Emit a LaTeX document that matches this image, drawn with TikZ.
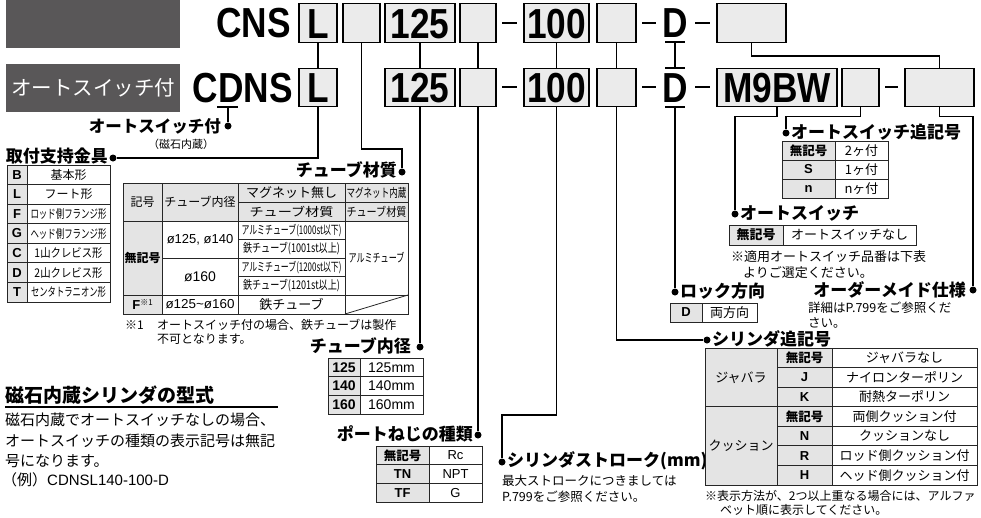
\documentclass[tikz,border=0pt]{standalone}
\usepackage{fontspec}
\usepackage{graphicx}
\setmainfont{Noto Sans CJK JP}
\newfontfamily\lat{Liberation Sans}
\definecolor{dk}{HTML}{595758}
\definecolor{bx}{HTML}{EBEBEB}
\definecolor{tg}{HTML}{E4E4E4}
\newcommand\fs[1]{\fontsize{#1}{#1}\selectfont}
\newcommand\sqz[2]{\resizebox{#1pt}{\height}{#2}}
\newcommand\codetxt[1]{\scalebox{0.84}[1]{\lat\bfseries\fs{42}#1}}
\tikzset{
  codebox/.style={draw=black, line width=1.4, fill=bx, minimum height=38.5, inner sep=0, text height=30, text depth=0},
  conn/.style={line width=1.3},
  dotn/.style={circle, fill=black, minimum size=7, inner sep=0},
  ttl/.style={font=\bfseries\fs{17}, inner sep=0},
  cell/.style={inner sep=0, font=\fs{12}},
  lcell/.style={inner sep=0, font=\lat\fs{13}},
  bcell/.style={inner sep=0, font=\lat\bfseries\fs{13}},
  grid/.style={line width=0.8, draw=black!85},
  note/.style={inner sep=0, font=\fs{12.5}, anchor=west},
  dashbar/.style={line width=2.4},
}
\begin{document}
\begin{tikzpicture}[x=1pt,y=-1pt]
\useasboundingbox (0,0) rectangle (981,517);
% header dark boxes
\fill[dk] (6,0) rectangle (180,48);
\fill[dk] (6,64) rectangle (180,112);
\node[inner sep=0, text=white, font=\fs{20.5}] (hdr) at (93,88) {オートスイッチ付};
% code texts
\node[anchor=base east, inner sep=0] (cns) at (291,37) {\codetxt{CNS}};
\node[anchor=base east, inner sep=0] (cdns) at (293,102) {\codetxt{CDNS}};
% row 1 boxes
\node[codebox, minimum width=38] (r1L) at (318,23) {\codetxt{L}};
\node[codebox, minimum width=37] (r1e1) at (361.5,23) {};
\node[codebox, minimum width=70] (r1n) at (420,23) {\codetxt{125}};
\node[codebox, minimum width=36] (r1e2) at (478,23) {};
\node[codebox, minimum width=65] (r1h) at (556.5,23) {\codetxt{100}};
\node[codebox, minimum width=39] (r1e3) at (616.5,23) {};
\node[anchor=base, inner sep=0] (r1D) at (675,37) {\codetxt{D}};
\node[codebox, minimum width=69] (r1x) at (751.5,23) {};
% row 2 boxes
\node[codebox, minimum width=38] (r2L) at (318,87.5) {\codetxt{L}};
\node[codebox, minimum width=70] (r2n) at (420,87.5) {\codetxt{125}};
\node[codebox, minimum width=36] (r2e2) at (478,87.5) {};
\node[codebox, minimum width=65] (r2h) at (556.5,87.5) {\codetxt{100}};
\node[codebox, minimum width=39] (r2e3) at (616.5,87.5) {};
\node[anchor=base, inner sep=0] (r2D) at (675,102) {\codetxt{D}};
\node[codebox, minimum width=120] (r2m) at (777,87.5) {\codetxt{M9BW}};
\node[codebox, minimum width=37] (r2e4) at (860.5,87.5) {};
\node[codebox, minimum width=69] (r2x) at (939.5,87.5) {};
% dashes
\foreach \xa/\xb in {502/517,642/656,695/710}{
  \draw[dashbar] (\xa,23) -- (\xb,23);
  \draw[dashbar] (\xa,87) -- (\xb,87);
}
\draw[dashbar] (885,87) -- (898,87);
% D bars
\coordinate (dA) at (675,42);
\coordinate (dB) at (675,68);
\coordinate (dC) at (675,107);
\draw[conn] (665,42) -- (685,42);
\draw[conn] (665,68) -- (685,68);
\draw[conn] (665,107) -- (685,107);
\draw[conn] (dA) -- (dB);
% CDNS D underline
\coordinate (cd) at (228,107);
\draw[conn] (217,107) -- (238,107);
% vertical links between rows
\draw[conn] (r1L.south) -- (r2L.north);
\draw[conn] (r1n.south) -- (r2n.north);
\draw[conn] (r1e2.south) -- (r2e2.north);
\draw[conn] (r1h.south) -- (r2h.north);
\draw[conn] (r1e3.south) -- (r2e3.north);
\draw[conn] (r1x.south) -- ++(0,13) -| (r2x.north);
% dots
\node[dotn] (d0) at (228,126) {};
\node[dotn] (d1) at (113,158) {};
\node[dotn] (d2) at (402,172) {};
\node[dotn] (d3) at (420,347) {};
\node[dotn] (d4) at (478,435) {};
\node[dotn] (d5) at (502,462) {};
\node[dotn] (d6) at (707,340) {};
\node[dotn] (d7) at (675,292) {};
\node[dotn] (d8) at (735,214) {};
\node[dotn] (d9) at (786,133) {};
\node[dotn] (d10) at (973,290) {};
% connectors
\coordinate (b2) at (402,149);
\coordinate (b5) at (502,415);
\draw[conn] (cd) -- (d0);
\draw[conn] (r2L.south) |- (d1);
\draw[conn] (r1e1.south) |- (b2) -- (d2);
\draw[conn] (r2n.south) -- (d3);
\draw[conn] (r2e2.south) -- (d4);
\draw[conn] (r2h.south) |- (b5) -- (d5);
\draw[conn] (r2e3.south) |- (d6);
\draw[conn] (dC) -- (d7);
\draw[conn] (r2m.south) -- ++(0,9) -| (d8);
\draw[conn] (r2e4.south) -- ++(0,9) -| (d9);
\draw[conn] (r2x.south) -- ++(0,9) -| (d10);
% titles
\node[ttl, font=\bfseries\fs{16.5}, anchor=east] (t0) at (221,126) {オートスイッチ付};
\node[inner sep=0, font=\fs{11}] (t0b) at (181,144) {（磁石内蔵）};
\node[ttl, anchor=east] (t1) at (108,156) {取付支持金具};
\node[ttl, anchor=east] (t2) at (397,170) {チューブ材質};
\node[ttl, anchor=east] (t3) at (411,346) {チューブ内径};
\node[ttl, anchor=east] (t4) at (473,434) {ポートねじの種類};
\node[ttl, anchor=west] (t5) at (507,461) {シリンダストローク(mm)};
\node[ttl, anchor=west] (t6) at (791,132) {オートスイッチ追記号};
\node[ttl, anchor=west] (t7) at (740,213) {オートスイッチ};
\node[ttl, anchor=west] (t8) at (680,291) {ロック方向};
\node[ttl, anchor=east] (t9) at (966,290) {オーダーメイド仕様};
\node[ttl, anchor=west] (t10) at (712,339) {シリンダ追記号};
% ---- table: mounting
\fill[tg] (7,165) rectangle (27,302);
\draw[grid] (7,165) rectangle (110,302);
\draw[grid] (27,165) -- (27,302);
\foreach \k in {1,...,6} \draw[grid] (7,{165+19.57*\k}) -- (110,{165+19.57*\k});
\foreach \k/\t in {0/B,1/L,2/F,3/G,4/C,5/D,6/T}
  \node[bcell] (ta\k) at (17,{174.8+19.57*\k}) {\t};
\node[cell] (tb0) at (68.5,174.8) {基本形};
\node[cell] (tb1) at (68.5,194.4) {フート形};
\node[cell] (tb2) at (68.5,213.9) {\sqz{76}{ロッド側フランジ形}};
\node[cell] (tb3) at (68.5,233.5) {\sqz{76}{ヘッド側フランジ形}};
\node[cell] (tb4) at (68.5,253.1) {\sqz{68}{1山クレビス形}};
\node[cell] (tb5) at (68.5,272.7) {\sqz{68}{2山クレビス形}};
\node[cell] (tb6) at (68.5,292.2) {\sqz{75}{センタトラニオン形}};
% ---- table: tube material
\fill[tg] (123,183) rectangle (408,221);
\fill[tg] (123,221) rectangle (162,314);
\draw[grid] (123,183) rectangle (408,314);
\draw[grid] (162,183) -- (162,314);
\draw[grid] (238,183) -- (238,314);
\draw[grid] (345,183) -- (345,314);
\draw[grid] (238,202) -- (408,202);
\draw[grid] (123,221) -- (408,221);
\draw[grid] (238,239.5) -- (345,239.5);
\draw[grid] (162,258) -- (345,258);
\draw[grid] (238,276.5) -- (345,276.5);
\draw[grid] (123,295) -- (408,295);
\draw[grid] (345,314) -- (408,295);
\node[cell] (tc1) at (142.5,202) {記号};
\node[cell] (tc2) at (200,202) {チューブ内径};
\node[cell, font=\fs{13}] (tc3) at (291.5,192.5) {マグネット無し};
\node[cell] (tc4) at (376.5,192.5) {\sqz{60}{マグネット内蔵}};
\node[cell] (tc5) at (291.5,211.5) {\sqz{84}{チューブ材質}};
\node[cell] (tc6) at (376.5,211.5) {\sqz{60}{チューブ材質}};
\node[cell, font=\bfseries\fs{12}] (tc7) at (142.5,258) {無記号};
\node[lcell] (tc8) at (200,239.5) {ø125, ø140};
\node[lcell, font=\lat\fs{14}] (tc9) at (200,276.5) {ø160};
\node[cell] (tc10) at (291.5,230.2) {\sqz{100}{アルミチューブ(1000st以下)}};
\node[cell] (tc11) at (291.5,248.7) {\sqz{97}{鉄チューブ(1001st以上)}};
\node[cell] (tc12) at (291.5,267.2) {\sqz{100}{アルミチューブ(1200st以下)}};
\node[cell] (tc13) at (291.5,285.7) {\sqz{97}{鉄チューブ(1201st以上)}};
\node[cell] (tc14) at (376.5,258) {\sqz{56}{アルミチューブ}};
\node[cell] (tc15) at (142.5,304.5) {{\lat\bfseries\fs{13}F}\raisebox{4pt}{\fs{8}※1}};
\node[lcell] (tc16) at (200,304.5) {\sqz{69}{ø125\textasciitilde ø160}};
\node[cell, font=\fs{13}] (tc17) at (291.5,304.5) {鉄チューブ};
\node[note, font=\fs{12}] (n1a) at (125,325) {※1};
\node[note, font=\fs{12}] (n1b) at (157,325) {オートスイッチ付の場合、鉄チューブは製作};
\node[note, font=\fs{12}] (n1c) at (157,339) {不可となります。};
% ---- table: bore
\fill[tg] (328,358) rectangle (360,414);
\draw[grid] (328,358) rectangle (423,414);
\draw[grid] (360,358) -- (360,414);
\draw[grid] (328,376.7) -- (423,376.7);
\draw[grid] (328,395.3) -- (423,395.3);
\foreach \k/\a in {0/125,1/140,2/160}{
  \node[bcell, font=\lat\bfseries\fs{14}] (td\k) at (344,{367.3+18.67*\k}) {\a};
  \node[lcell, font=\lat\fs{14}] (te\k) at (391.5,{367.3+18.67*\k}) {\a mm};
}
% ---- table: port thread
\fill[tg] (376,446) rectangle (429,502);
\draw[grid] (376,446) rectangle (482,502);
\draw[grid] (429,446) -- (429,502);
\draw[grid] (376,464.7) -- (482,464.7);
\draw[grid] (376,483.3) -- (482,483.3);
\node[cell, font=\bfseries\fs{12.5}] (tf0) at (402.5,455.3) {無記号};
\node[bcell] (tf1) at (402.5,474) {TN};
\node[bcell] (tf2) at (402.5,492.7) {TF};
\node[lcell] (tg0) at (455.5,455.3) {Rc};
\node[lcell] (tg1) at (455.5,474) {NPT};
\node[lcell] (tg2) at (455.5,492.7) {G};
% stroke note
\node[note] (n2a) at (502,481) {最大ストロークにつきましては};
\node[note] (n2b) at (502,497) {P.799をご参照ください。};
% ---- table: switch suffix
\fill[tg] (782,141) rectangle (835,198);
\draw[grid] (782,141) rectangle (888,198);
\draw[grid] (835,141) -- (835,198);
\draw[grid] (782,160) -- (888,160);
\draw[grid] (782,179) -- (888,179);
\node[cell, font=\bfseries\fs{12.5}] (th0) at (808.5,150.5) {無記号};
\node[bcell] (th1) at (808.5,169.5) {S};
\node[bcell] (th2) at (808.5,188.5) {n};
\node[cell, font=\fs{13}] (ti0) at (861.5,150.5) {2ヶ付};
\node[cell, font=\fs{13}] (ti1) at (861.5,169.5) {1ヶ付};
\node[cell, font=\fs{13}] (ti2) at (861.5,188.5) {nヶ付};
% ---- table: auto switch
\fill[tg] (729,225) rectangle (783,245);
\draw[grid] (729,225) rectangle (916,245);
\draw[grid] (783,225) -- (783,245);
\node[cell, font=\bfseries\fs{13}] (tj0) at (756,235) {無記号};
\node[cell, font=\fs{13}] (tj1) at (849.5,235) {オートスイッチなし};
\node[note, font=\fs{13}] (n3a) at (731,257) {※適用オートスイッチ品番は下表};
\node[note, font=\fs{13}] (n3b) at (743,273) {よりご選定ください。};
% ---- table: lock
\fill[tg] (670,303) rectangle (702,322);
\draw[grid] (670,303) rectangle (757,322);
\draw[grid] (702,303) -- (702,322);
\node[bcell] (tk0) at (686,312.5) {D};
\node[cell, font=\fs{13}] (tk1) at (729.5,312.5) {両方向};
% order-made note
\node[note] (n4a) at (808,308) {詳細はP.799をご参照くだ};
\node[note] (n4b) at (808,323) {さい。};
% ---- table: cylinder suffix
\fill[tg] (705,348) rectangle (832,485);
\draw[grid] (705,348) rectangle (977,485);
\draw[grid] (777,348) -- (777,485);
\draw[grid] (832,348) -- (832,485);
\draw[grid] (705,406.7) -- (977,406.7);
\foreach \k in {1,2,4,5,6} \draw[grid] (777,{348+19.57*\k}) -- (977,{348+19.57*\k});
\node[cell, font=\fs{13}] (tl0) at (741,377.4) {ジャバラ};
\node[cell, font=\fs{13}] (tl1) at (741,446) {クッション};
\node[cell, font=\bfseries\fs{12.5}] (tm0) at (804.5,357.8) {無記号};
\node[bcell] (tm1) at (804.5,377.4) {J};
\node[bcell] (tm2) at (804.5,396.9) {K};
\node[cell, font=\bfseries\fs{12.5}] (tm3) at (804.5,416.5) {無記号};
\node[bcell] (tm4) at (804.5,436.1) {N};
\node[bcell] (tm5) at (804.5,455.6) {R};
\node[bcell] (tm6) at (804.5,475.2) {H};
\node[cell, font=\fs{13}] (tn0) at (904.5,357.8) {ジャバラなし};
\node[cell, font=\fs{13}] (tn1) at (904.5,377.4) {ナイロンターポリン};
\node[cell, font=\fs{13}] (tn2) at (904.5,396.9) {耐熱ターポリン};
\node[cell, font=\fs{13}] (tn3) at (904.5,416.5) {両側クッション付};
\node[cell, font=\fs{13}] (tn4) at (904.5,436.1) {クッションなし};
\node[cell, font=\fs{13}] (tn5) at (904.5,455.6) {ロッド側クッション付};
\node[cell, font=\fs{13}] (tn6) at (904.5,475.2) {ヘッド側クッション付};
\node[note, font=\fs{12}] (n5a) at (705,496) {※表示方法が、2つ以上重なる場合には、アルファ};
\node[note, font=\fs{12}] (n5b) at (720,510) {ベット順に表示してください。};
% ---- bottom-left
\node[inner sep=0, anchor=west, font=\bfseries\fs{19}] (bl0) at (5,395) {磁石内蔵シリンダの型式};
\draw[line width=1.2] (5,407) -- (278,407);
\node[note, font=\fs{15}] (bl1) at (5,420) {磁石内蔵でオートスイッチなしの場合、};
\node[note, font=\fs{15}] (bl2) at (5,441) {オートスイッチの種類の表示記号は無記};
\node[note, font=\fs{15}] (bl3) at (5,461) {号になります。};
\node[note, font=\fs{15}] (bl4) at (2,480) {（例）{\lat CDNSL140-100-D}};
\end{tikzpicture}
\end{document}
